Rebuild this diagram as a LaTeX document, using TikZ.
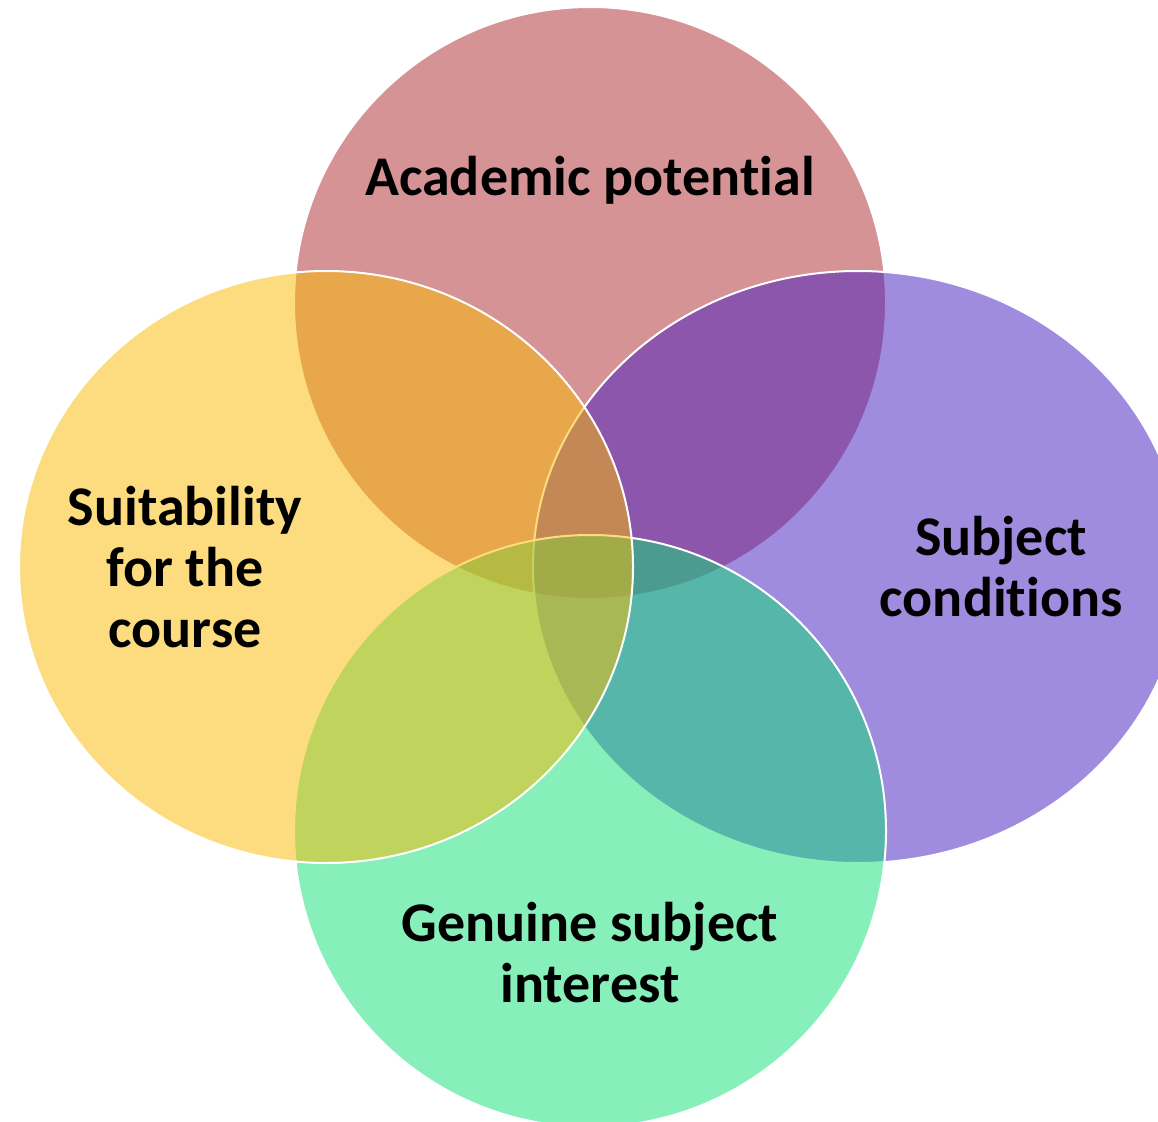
\documentclass[tikz,border=0pt]{standalone}
\usepackage{fontspec}
\setmainfont{Carlito}[Ligatures=NoCommon]
\definecolor{cpink}{RGB}{175,41,45}
\definecolor{cpurple}{RGB}{65,27,193}
\definecolor{cgreen}{RGB}{15,225,119}
\definecolor{cyellow}{RGB}{251,187,1}
\tikzset{
  venn/.style={fill opacity=0.5, draw=white, draw opacity=1, line width=2pt},
  lbl/.style={font=\fontsize{56}{61}\selectfont\bfseries, align=center, text=black, inner sep=0pt}
}
\begin{document}
\begin{tikzpicture}[x=1pt,y=-1pt]
\useasboundingbox (0,0) rectangle (1158,1121);
\clip (0,0) rectangle (1158,1121);
\fill[white] (0,0) rectangle (1158,1121);
\path[venn, fill=cpink] (590,303) ellipse [x radius=296pt, y radius=296pt];
\path[venn, fill=cpurple] (858,567) ellipse [x radius=325pt, y radius=296pt];
\path[venn, fill=cgreen] (590,831) ellipse [x radius=296pt, y radius=296pt];
\path[venn, fill=cyellow] (326,567) ellipse [x radius=307pt, y radius=296pt];
\node[lbl] (acad) at (590,180) {Academic potential};
\node[lbl] (suit) at (185,567) {Suitability\\for the\\course};
\node[lbl] (subj) at (1001,567) {Subject\\conditions};
\node[lbl] (genu) at (590,953) {Genuine subject\\interest};
\end{tikzpicture}
\end{document}
